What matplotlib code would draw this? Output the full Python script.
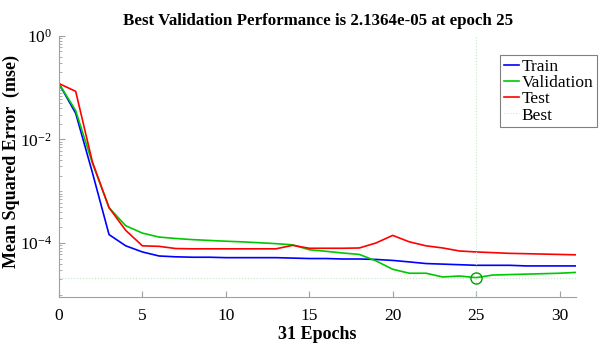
import matplotlib
matplotlib.use('Agg')
import matplotlib.pyplot as plt
import matplotlib.ticker as ticker
import numpy as np

plt.rcParams['font.family'] = ['Liberation Serif', 'DejaVu Serif']
plt.rcParams['mathtext.fontset'] = 'custom'
plt.rcParams['mathtext.rm'] = 'Liberation Serif'
plt.rcParams['mathtext.it'] = 'Liberation Serif:italic'
plt.rcParams['mathtext.bf'] = 'Liberation Serif:bold'

epochs = list(range(0, 32))

train = [0.12, 0.032, 2.3e-3, 1.45e-4, 8.8e-5, 6.7e-5, 5.6e-5, 5.4e-5,
         5.3e-5, 5.3e-5, 5.2e-5, 5.2e-5, 5.2e-5, 5.2e-5, 5.1e-5, 5.0e-5,
         5.0e-5, 4.9e-5, 4.9e-5, 4.8e-5, 4.6e-5, 4.3e-5, 4.0e-5, 3.9e-5,
         3.8e-5, 3.7e-5, 3.7e-5, 3.7e-5, 3.6e-5, 3.6e-5, 3.6e-5, 3.6e-5]

validation = [0.12, 0.036, 3.5e-3, 4.8e-4, 2.15e-4, 1.55e-4, 1.3e-4, 1.22e-4,
              1.16e-4, 1.12e-4, 1.08e-4, 1.05e-4, 1.01e-4, 9.7e-5, 9.2e-5, 7.4e-5,
              6.9e-5, 6.4e-5, 6.0e-5, 4.5e-5, 3.1e-5, 2.6e-5, 2.6e-5, 2.2e-5,
              2.3e-5, 2.1364e-5, 2.4e-5, 2.45e-5, 2.5e-5, 2.55e-5, 2.6e-5, 2.7e-5]

test = [0.12, 0.085, 3.7e-3, 4.8e-4, 1.75e-4, 8.8e-5, 8.6e-5, 7.8e-5,
        7.7e-5, 7.7e-5, 7.7e-5, 7.7e-5, 7.7e-5, 7.7e-5, 9.0e-5, 7.9e-5,
        7.9e-5, 7.9e-5, 8.0e-5, 1.0e-4, 1.4e-4, 1.05e-4, 8.8e-5, 8.0e-5,
        7.0e-5, 6.7e-5, 6.5e-5, 6.3e-5, 6.2e-5, 6.1e-5, 6.0e-5, 5.9e-5]

best_epoch = 25
best_perf = 2.1364e-05

fig = plt.figure(figsize=(6.05, 3.52), dpi=100)
ax = fig.add_axes([0.0975, 0.156, 0.855, 0.742])

ax.plot(epochs, train, color='#0000ff', lw=1.2, label='Train')
ax.plot(epochs, validation, color='#00c800', lw=1.2, label='Validation')
ax.plot(epochs, test, color='#ff0000', lw=1.2, label='Test')
ax.axhline(best_perf, color='#c8e6c8', lw=0.8, ls=':', label='Best')
ax.axvline(best_epoch, color='#c8e6c8', lw=0.8, ls=':')
ax.plot([best_epoch], [best_perf], 'o', mfc='none', mec='#00a000', ms=8, mew=1.0)

ax.set_yscale('log')
ax.set_xlim(0, 31)
ax.set_ylim(9e-6, 1)
ax.set_xticks([0, 5, 10, 15, 20, 25, 30])
ax.yaxis.set_major_locator(ticker.FixedLocator([1e-4, 1e-2, 1e0]))
ax.yaxis.set_minor_locator(ticker.LogLocator(base=10, subs=np.arange(1, 10), numticks=20))
ax.yaxis.set_minor_formatter(ticker.NullFormatter())

for s in ['top', 'right']:
    ax.spines[s].set_visible(False)
for s in ['left', 'bottom']:
    ax.spines[s].set_color('#a0a0a0')
ax.tick_params(which='both', direction='in', colors='#a0a0a0', labelcolor='black',
               labelsize=12.5, top=False, right=False)
ax.tick_params(which='major', length=4)
ax.tick_params(which='minor', length=2)
ax.tick_params(axis='x', pad=8)
ax.tick_params(axis='y', pad=5)

ax.set_title('Best Validation Performance is 2.1364e-05 at epoch 25',
             fontsize=12.2, fontweight='bold', pad=8)
ax.set_xlabel('31 Epochs', fontsize=13, fontweight='bold')
ax.set_ylabel('Mean Squared Error  (mse)', fontsize=13, fontweight='bold')
ax.xaxis.set_label_coords(0.5, -0.11)
ax.yaxis.set_label_coords(-0.075, 0.52)

leg = ax.legend(loc='upper left', bbox_to_anchor=(0.853, 0.925), fontsize=12.5,
                handlelength=0.9, handletextpad=0.15, borderpad=0.2,
                labelspacing=0.0, fancybox=False, framealpha=1, borderaxespad=0)
leg.get_frame().set_edgecolor('#808080')
leg.get_frame().set_linewidth(0.8)

fig.savefig('out.png', dpi=100)
